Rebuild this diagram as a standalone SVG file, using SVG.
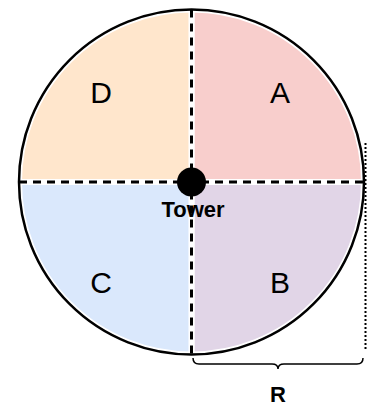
<svg xmlns="http://www.w3.org/2000/svg" width="369" height="407" viewBox="0 0 369 407">
<style>
.q{stroke:#ffffff;stroke-width:6}
.div{stroke:#000;stroke-width:3;stroke-dasharray:8 6;fill:none}
.lbl{font-family:"Liberation Sans",Arial,sans-serif;font-size:30px;fill:#000;text-anchor:middle}
.bold{font-family:"Liberation Sans",Arial,sans-serif;font-weight:bold;font-size:22px;fill:#000;text-anchor:middle}
</style>
<rect width="369" height="407" fill="#fff"/>
<g id="quadrantA"><path class="q" d="M191.5,182 L191.5,9.5 A172.5,172.5 0 0 1 364,182 Z" fill="#f8cecc"/><text class="lbl" x="280" y="103">A</text></g>
<g id="quadrantB"><path class="q" d="M191.5,182 L364,182 A172.5,172.5 0 0 1 191.5,354.5 Z" fill="#e1d5e7"/><text class="lbl" x="280" y="293">B</text></g>
<g id="quadrantC"><path class="q" d="M191.5,182 L191.5,354.5 A172.5,172.5 0 0 1 19,182 Z" fill="#dae8fc"/><text class="lbl" x="101" y="293">C</text></g>
<g id="quadrantD"><path class="q" d="M191.5,182 L19,182 A172.5,172.5 0 0 1 191.5,9.5 Z" fill="#ffe6cc"/><text class="lbl" x="101" y="103">D</text></g>
<g id="outline"><circle cx="191.5" cy="182" r="172.5" fill="none" stroke="#000" stroke-width="2.5"/></g>
<g id="connectors">
<line class="div" x1="191.5" y1="9.5" x2="191.5" y2="354.5"/>
<line class="div" x1="19" y1="182" x2="364" y2="182"/>
<line x1="365.5" y1="143" x2="365.5" y2="350" stroke="#000" stroke-width="2" stroke-dasharray="2 2"/>
<path d="M193,358 Q193,364 199,364 L272,364 Q278,364 278,369 Q278,364 284,364 L357,364 Q363,364 363,358" fill="none" stroke="#000" stroke-width="1.5"/>
</g>
<g id="tower"><circle cx="191.5" cy="182" r="14.5" fill="#000"/><text class="bold" x="193" y="217">Tower</text></g>
<g id="radiusLabel"><text class="bold" x="278" y="402">R</text></g>
</svg>
